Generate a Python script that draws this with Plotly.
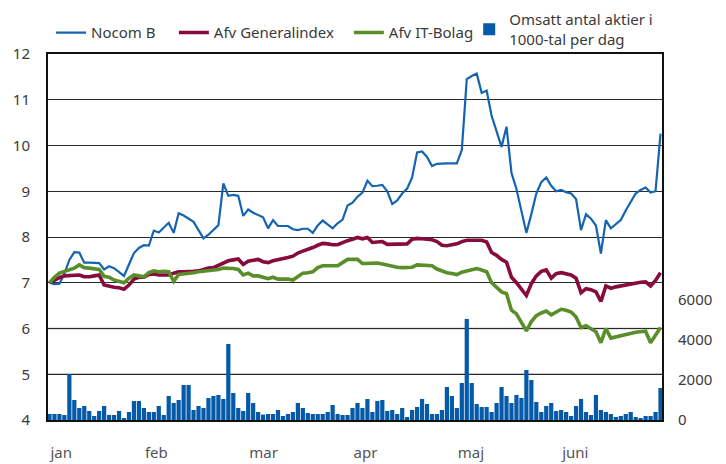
import plotly.graph_objects as go

# ---------------- data ----------------
months = ["jan", "feb", "mar", "apr", "maj", "juni"]
month_days = [19, 21, 21, 21, 21, 21]

nocom_b = [7.00, 6.97, 6.98, 7.20, 7.50, 7.67, 7.66, 7.44, 7.44, 7.44,
           7.43, 7.29, 7.36, 7.32, 7.24, 7.15, 7.40, 7.65, 7.76, 7.82,
           7.81, 8.14, 8.10, 8.20, 8.31, 8.09, 8.52, 8.47, 8.40, 8.33,
           8.15, 7.97, 8.05, 8.15, 8.26, 9.17, 8.90, 8.92, 8.90, 8.46,
           8.60, 8.53, 8.48, 8.43, 8.19, 8.37, 8.24, 8.24, 8.24, 8.17,
           8.15, 8.18, 8.18, 8.09, 8.25, 8.36, 8.27, 8.19, 8.30, 8.38,
           8.69, 8.75, 8.88, 8.97, 9.23, 9.11, 9.12, 9.14, 9.00, 8.72,
           8.80, 8.95, 9.06, 9.30, 9.85, 9.87, 9.75, 9.55, 9.60, 9.61,
           9.61, 9.61, 9.61, 9.90, 11.45, 11.52, 11.57, 11.15, 11.20, 10.65,
           10.30, 9.97, 10.41, 9.40, 9.05, 8.55, 8.09, 8.50, 8.95, 9.20,
           9.30, 9.12, 9.00, 9.03, 8.98, 8.95, 8.83, 8.15, 8.50, 8.40,
           8.25, 7.64, 8.37, 8.19, 8.28, 8.37, 8.58, 8.78, 8.95, 9.03,
           9.08, 8.97, 9.00, 10.26]

generalindex = [7.00, 7.06, 7.11, 7.15, 7.16, 7.16, 7.17, 7.13, 7.13, 7.15,
                7.17, 6.95, 6.92, 6.90, 6.89, 6.86, 6.95, 7.08, 7.12, 7.12,
                7.18, 7.19, 7.17, 7.17, 7.17, 7.21, 7.24, 7.24, 7.24, 7.25,
                7.26, 7.30, 7.32, 7.33, 7.38, 7.43, 7.48, 7.50, 7.52, 7.40,
                7.47, 7.49, 7.51, 7.46, 7.44, 7.48, 7.50, 7.52, 7.55, 7.58,
                7.65, 7.69, 7.72, 7.77, 7.82, 7.86, 7.85, 7.83, 7.83, 7.88,
                7.92, 7.95, 7.99, 7.96, 7.99, 7.88, 7.89, 7.90, 7.84, 7.84,
                7.85, 7.85, 7.85, 7.95, 7.97, 7.96, 7.95, 7.94, 7.90, 7.82,
                7.81, 7.83, 7.85, 7.90, 7.93, 7.93, 7.93, 7.93, 7.89, 7.66,
                7.60, 7.51, 7.45, 7.12, 7.00, 6.85, 6.72, 6.98, 7.15, 7.25,
                7.28, 7.10, 7.20, 7.22, 7.20, 7.17, 7.10, 6.78, 6.87, 6.85,
                6.80, 6.59, 6.93, 6.88, 6.91, 6.93, 6.95, 6.98, 7.00, 7.01,
                7.02, 6.93, 7.05, 7.22]

it_bolag = [7.00, 7.12, 7.21, 7.24, 7.28, 7.32, 7.39, 7.33, 7.32, 7.31,
            7.29, 7.14, 7.12, 7.06, 7.03, 7.00, 7.10, 7.17, 7.15, 7.13,
            7.22, 7.26, 7.24, 7.25, 7.24, 7.03, 7.18, 7.19, 7.20, 7.22,
            7.24, 7.25, 7.26, 7.27, 7.29, 7.32, 7.32, 7.31, 7.29, 7.17,
            7.21, 7.15, 7.15, 7.12, 7.09, 7.12, 7.08, 7.08, 7.08, 7.06,
            7.14, 7.21, 7.22, 7.24, 7.33, 7.37, 7.37, 7.37, 7.37, 7.44,
            7.51, 7.51, 7.51, 7.42, 7.42, 7.43, 7.43, 7.41, 7.38, 7.35,
            7.34, 7.33, 7.33, 7.34, 7.39, 7.38, 7.38, 7.37, 7.30, 7.25,
            7.22, 7.20, 7.18, 7.23, 7.26, 7.29, 7.31, 7.28, 7.24, 7.00,
            6.90, 6.80, 6.76, 6.40, 6.32, 6.12, 5.95, 6.15, 6.28, 6.34,
            6.38, 6.30, 6.35, 6.42, 6.40, 6.36, 6.25, 6.02, 6.06, 6.00,
            5.93, 5.69, 6.00, 5.79, 5.82, 5.84, 5.86, 5.90, 5.92, 5.93,
            5.94, 5.69, 5.85, 6.02]

volume = [300, 300, 300, 250, 2300, 1000, 600, 700, 450, 200,
          450, 700, 250, 250, 450, 100, 400, 950, 950, 600,
          400, 400, 700, 250, 1200, 850, 1000, 1750, 1750, 500,
          700, 600, 1100, 1200, 1250, 1050, 3800, 1350, 600, 450,
          1350, 850, 400, 270, 300, 300, 500, 200, 300, 400,
          850, 600, 350, 300, 300, 300, 400, 750, 300, 250,
          250, 600, 850, 600, 1050, 400, 950, 1000, 450, 500,
          300, 600, 150, 500, 650, 1050, 800, 300, 300, 500,
          1650, 1200, 600, 1850, 5050, 1850, 800, 650, 650, 400,
          850, 1650, 1200, 850, 1250, 1100, 2500, 2000, 900, 400,
          700, 850, 450, 500, 400, 200, 700, 1050, 400, 250,
          1250, 500, 400, 300, 150, 200, 300, 400, 150, 100,
          200, 200, 400, 1600]

left_ticks = [4, 5, 6, 7, 8, 9, 10, 11, 12]
right_ticks = [0, 2000, 4000, 6000]

# ---------------- figure ----------------
days = list(range(len(nocom_b)))
month_starts = []
acc = 0
for d in month_days:
    month_starts.append(acc)
    acc += d

FONT = "Noto Sans, Lato, sans-serif"
TXT = "#3a3a3a"

fig = go.Figure()
fig.add_trace(go.Scatter(x=days, y=nocom_b, mode="lines", name="Nocom B",
                         legend="legend",
                         line=dict(color="#1464B0", width=2.2)))
fig.add_trace(go.Scatter(x=days, y=generalindex, mode="lines", name="Afv Generalindex",
                         legend="legend3",
                         line=dict(color="#870B3D", width=3.6)))
fig.add_trace(go.Scatter(x=days, y=it_bolag, mode="lines", name="Afv IT-Bolag",
                         legend="legend4",
                         line=dict(color="#5A8E2A", width=3.6)))
fig.add_trace(go.Bar(x=days, y=volume, yaxis="y2", legend="legend2",
                     name="Omsatt antal aktier i<br>1000-tal per dag",
                     marker=dict(color="#0459A9", line=dict(width=0))))

shapes = []
for v in [5, 6]:
    shapes.append(dict(type="line", xref="paper", x0=0, x1=1, yref="y", y0=v, y1=v,
                       line=dict(color="#8a8a8a", width=1.5), layer="between"))


def leg(x, y):
    return dict(orientation="h", x=x, xanchor="left", y=y, yanchor="top",
                valign="middle", font=dict(size=15, color=TXT),
                bgcolor="rgba(0,0,0,0)", itemclick=False)


fig.update_layout(
    width=718, height=456,
    margin=dict(l=40, r=64, t=46, b=44, autoexpand=False),
    paper_bgcolor="white", plot_bgcolor="white",
    font=dict(family=FONT, size=15, color=TXT),
    bargap=0.15,
    showlegend=True,
    legend=leg(0.005, 1.103),
    legend3=leg(0.205, 1.103),
    legend4=leg(0.49, 1.103),
    legend2=leg(0.686, 1.139),
    xaxis=dict(range=[-0.3, len(days) - 0.7],
               tickvals=month_starts, ticktext=months,
               ticks="", ticklabelstandoff=18,
               ticklabelposition="outside right", automargin=False,
               showgrid=False, zeroline=False,
               showline=True, linecolor="#111", linewidth=2, mirror=True,
               tickfont=dict(size=15, color="#555")),
    yaxis=dict(range=[4, 12], tickvals=left_ticks, automargin=False,
               ticks="outside", ticklen=13, tickcolor="rgba(0,0,0,0)",
               showgrid=True, gridcolor="#2a2a2a", gridwidth=1,
               zeroline=False, showline=True, linecolor="#111", linewidth=2,
               mirror=True, tickfont=dict(size=15, color=TXT)),
    yaxis2=dict(overlaying="y", side="right", range=[0, 18300], automargin=False,
                tickvals=right_ticks, ticktext=[str(t) for t in right_ticks],
                ticks="outside", ticklen=12, tickcolor="rgba(0,0,0,0)",
                showgrid=False, zeroline=False, showline=False,
                tickfont=dict(size=15, color=TXT)),
    shapes=shapes,
)

fig.write_html("out.html")
